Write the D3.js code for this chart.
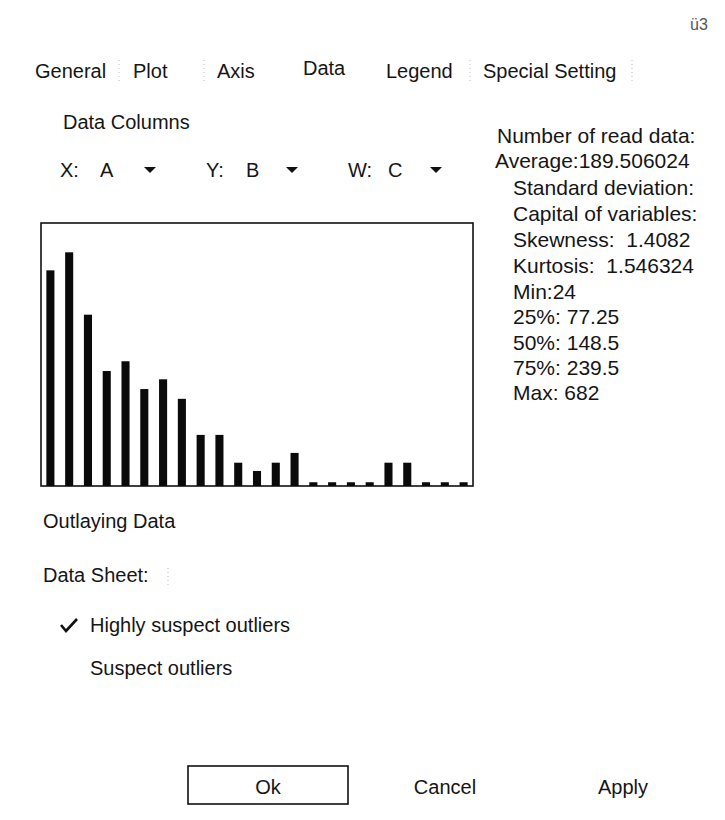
<!DOCTYPE html>
<html>
<head>
<meta charset="utf-8">
<script src="https://cdn.jsdelivr.net/npm/d3@7"></script>
<style>
  html, body { margin: 0; padding: 0; background: #fff; }
  svg { display: block; }
  text { font-family: "Liberation Sans", Arial, sans-serif; fill: #151515; white-space: pre; }
</style>
</head>
<body>
<svg id="chart" width="725" height="820"></svg>
<script>
// ---- data ----
const tabs = ["General", "Plot", "Axis", "Data", "Legend", "Special Setting"];
const columnLabels = ["X:", "Y:", "W:"];
const columnValues = ["A", "B", "C"];
const bins = d3.range(1, 24).map(String);
const counts = [28.7, 31.1, 22.8, 15.3, 16.6, 12.9, 14.2, 11.6, 6.8, 6.8, 3.1, 2.0,
                3.1, 4.4, 0.5, 0.5, 0.5, 0.5, 3.1, 3.1, 0.5, 0.5, 0.5];
const yMax = 35;
const statsLines = ["Number of read data:", "Average:189.506024", "Standard deviation:",
                    "Capital of variables:", "Skewness:  1.4082", "Kurtosis:  1.546324",
                    "Min:24", "25%: 77.25", "50%: 148.5", "75%: 239.5", "Max: 682"];
const outlierOptions = ["Highly suspect outliers", "Suspect outliers"];
const buttons = ["Ok", "Cancel", "Apply"];

const svg = d3.select("#chart");

// ---- corner glyph ----
svg.append("text").attr("x", 690).attr("y", 30).attr("font-size", 16)
  .style("fill", "#555").text("ü3");

// ---- tabs ----
const tabX = [35, 133, 217, 303, 386, 483];
const tabY = [78, 78, 78, 75, 78, 78];
svg.selectAll("text.tab").data(tabs).join("text")
  .attr("class", "tab")
  .attr("x", (d, i) => tabX[i]).attr("y", (d, i) => tabY[i])
  .attr("font-size", 20).text(d => d);

// faint separators
const sepX = [119, 204, 470, 632];
svg.selectAll("line.sep").data(sepX).join("line")
  .attr("class", "sep")
  .attr("x1", d => d).attr("x2", d => d).attr("y1", 60).attr("y2", 82)
  .attr("stroke", "#bbb").attr("stroke-dasharray", "1,3");

// ---- data columns ----
svg.append("text").attr("x", 63).attr("y", 129).attr("font-size", 20).text("Data Columns");
const colX = [60, 206, 348];
const arrowDx = [90, 86, 88];
const g = svg.selectAll("g.col").data(columnLabels).join("g")
  .attr("class", "col").attr("transform", (d, i) => `translate(${colX[i]},177)`);
g.append("text").attr("x", 0).attr("y", 0).attr("font-size", 20).text(d => d);
g.append("text").attr("x", 40).attr("y", 0).attr("font-size", 20).text((d, i) => columnValues[i]);
g.append("path").attr("d", (d, i) => `M${arrowDx[i] - 6},-10 L${arrowDx[i] + 6},-10 L${arrowDx[i]},-4 Z`)
  .attr("fill", "#111");

// ---- histogram ----
const box = { x0: 41, x1: 473, y0: 223, y1: 486 };
const x = d3.scaleBand().domain(bins).range([box.x0, box.x1])
  .paddingInner(0.57).paddingOuter(0.285);
const y = d3.scaleLinear().domain([0, yMax]).range([box.y1, box.y0]);

svg.append("rect")
  .attr("x", box.x0).attr("y", box.y0)
  .attr("width", box.x1 - box.x0).attr("height", box.y1 - box.y0)
  .attr("fill", "none").attr("stroke", "#111").attr("stroke-width", 1.6);

svg.selectAll("rect.bar").data(counts).join("rect")
  .attr("class", "bar")
  .attr("x", (d, i) => x(bins[i]))
  .attr("width", x.bandwidth())
  .attr("y", d => y(d))
  .attr("height", d => y(0) - y(d))
  .attr("fill", "#0a0a0a");

// ---- statistics ----
const statX = [497, 495, 513, 513, 513, 513, 513, 513, 513, 513, 513];
const statY = [143, 168, 195, 221, 247, 273, 299, 324, 350, 375, 400];
svg.selectAll("text.stat").data(statsLines).join("text")
  .attr("class", "stat")
  .attr("x", (d, i) => statX[i]).attr("y", (d, i) => statY[i])
  .attr("font-size", 21).text(d => d);

// ---- outlying data ----
svg.append("text").attr("x", 43).attr("y", 528).attr("font-size", 20).text("Outlaying Data");
svg.append("text").attr("x", 43).attr("y", 582).attr("font-size", 20).text("Data Sheet:");
svg.append("line").attr("x1", 168).attr("x2", 168).attr("y1", 568).attr("y2", 585)
  .attr("stroke", "#bbb").attr("stroke-dasharray", "1,3");

svg.append("path").attr("d", "M61,625 L66,631 L77,619")
  .attr("fill", "none").attr("stroke", "#111").attr("stroke-width", 2.6);
const optY = [632, 675];
svg.selectAll("text.opt").data(outlierOptions).join("text")
  .attr("class", "opt")
  .attr("x", 90).attr("y", (d, i) => optY[i])
  .attr("font-size", 20).text(d => d);

// ---- buttons ----
svg.append("rect").attr("x", 188).attr("y", 766).attr("width", 160).attr("height", 38)
  .attr("fill", "none").attr("stroke", "#111").attr("stroke-width", 1.6);
const btnX = [268, 445, 623];
svg.selectAll("text.btn").data(buttons).join("text")
  .attr("class", "btn")
  .attr("x", (d, i) => btnX[i]).attr("y", 794)
  .attr("text-anchor", "middle")
  .attr("font-size", 20).text(d => d);
</script>
</body>
</html>
